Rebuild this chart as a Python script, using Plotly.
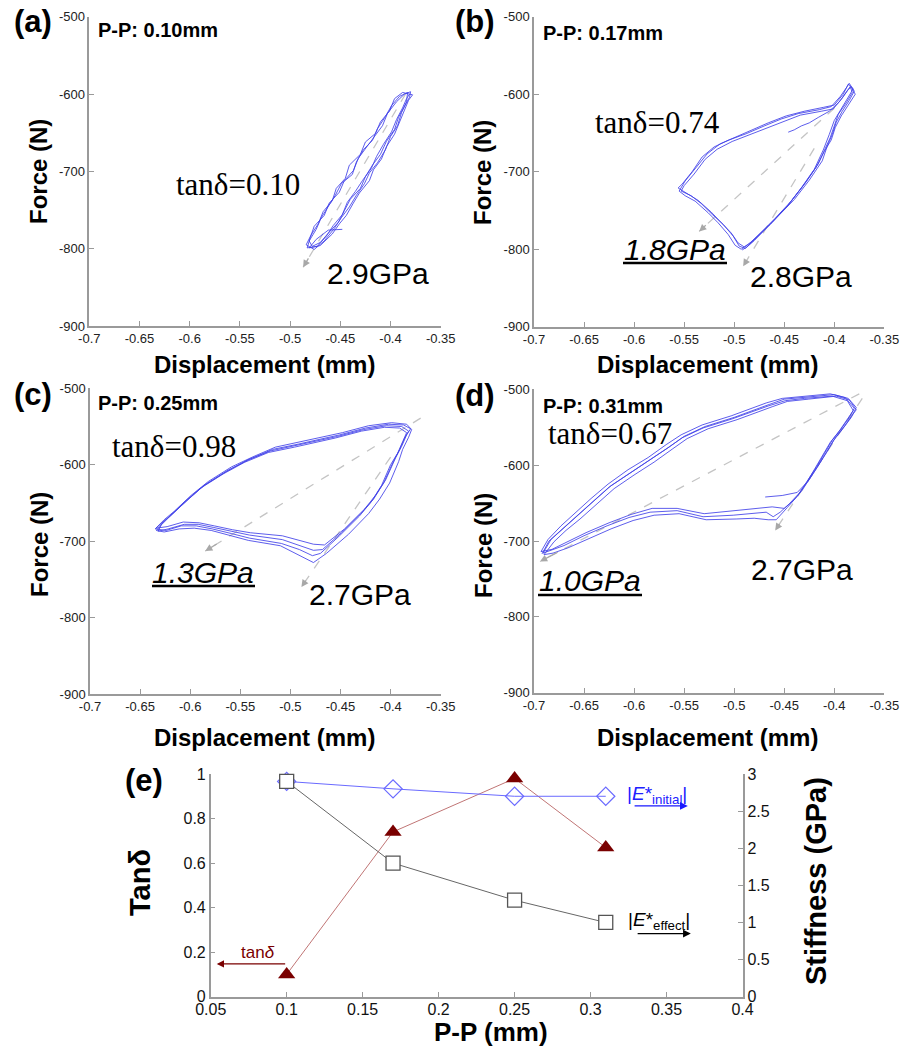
import plotly.graph_objects as go

W, H = 903, 1046

# ---------------- data ----------------
X_TICKS_DISP = [-0.7, -0.65, -0.6, -0.55, -0.5, -0.45, -0.4, -0.35]
X_TICKTEXT_DISP = ["-0.7", "-0.65", "-0.6", "-0.55", "-0.5", "-0.45", "-0.4", "-0.35"]
Y_TICKS_FORCE = [-900, -800, -700, -600, -500]
Y_TICKTEXT_FORCE = ["-900", "-800", "-700", "-600", "-500"]

# hysteresis loops (displacement mm, force N), several cycles each
LOOP_A = [(-0.448,-775),(-0.462,-776),(-0.474,-788),(-0.481,-799),
          (-0.470,-796),(-0.458,-781),(-0.451,-768),(-0.444,-757),(-0.437,-741),(-0.431,-728),(-0.421,-712),
          (-0.417,-698),(-0.409,-684),(-0.404,-668),(-0.396,-652),(-0.391,-636),(-0.386,-621),(-0.382,-608),
          (-0.378,-601),
          (-0.388,-598),(-0.396,-606),(-0.401,-622),(-0.410,-636),(-0.415,-651),(-0.425,-662),(-0.430,-678),
          (-0.441,-692),(-0.445,-709),(-0.454,-722),(-0.458,-738),(-0.467,-752),(-0.472,-768),(-0.479,-782),
          (-0.484,-795),
          (-0.476,-801),(-0.466,-790),(-0.456,-774),(-0.449,-760),(-0.441,-746),(-0.434,-731),(-0.426,-716),
          (-0.421,-702),(-0.413,-689),(-0.405,-672),(-0.400,-655),(-0.393,-641),(-0.389,-624),(-0.384,-610),
          (-0.383,-598),
          (-0.391,-603),(-0.399,-615),(-0.405,-629),(-0.413,-645),(-0.418,-660),(-0.427,-672),(-0.434,-688),
          (-0.438,-704),(-0.449,-716),(-0.455,-731),(-0.462,-745),(-0.469,-760),(-0.474,-775),(-0.481,-790),
          (-0.478,-797),
          (-0.470,-792),(-0.462,-780),(-0.452,-766),(-0.446,-751),(-0.440,-736),(-0.430,-722),(-0.425,-707),
          (-0.418,-692),(-0.410,-678),(-0.404,-661),(-0.396,-646),(-0.392,-630),(-0.386,-615),(-0.381,-604),
          (-0.380,-597),
          (-0.386,-600),(-0.394,-610),(-0.403,-625),(-0.408,-641),(-0.416,-655),(-0.423,-668),(-0.432,-683),
          (-0.437,-699),(-0.446,-712),(-0.451,-727),(-0.461,-741),(-0.466,-757),(-0.476,-771),(-0.480,-786),
          (-0.483,-799),
          (-0.473,-797),(-0.464,-784),(-0.457,-770),(-0.448,-756),(-0.443,-740),(-0.435,-726),(-0.428,-712),
          (-0.419,-696),(-0.414,-681),(-0.407,-665),(-0.399,-649),(-0.394,-633),(-0.388,-618),(-0.384,-606),
          (-0.381,-600)]

LOOP_B = [(-0.446,-649),(-0.440,-646),(-0.433,-641),(-0.425,-637),(-0.416,-630),(-0.405,-622),(-0.395,-610),
          (-0.388,-597),(-0.384,-590),
          (-0.382,-598),(-0.388,-611),(-0.396,-626),(-0.400,-640),(-0.404,-656),(-0.409,-670),(-0.416,-690),
          (-0.428,-713),(-0.443,-738),(-0.459,-760),(-0.472,-777),(-0.482,-790),(-0.490,-797),(-0.496,-792),
          (-0.503,-779),(-0.513,-765),(-0.523,-752),(-0.536,-737),(-0.546,-729),(-0.556,-721),(-0.552,-716),
          (-0.542,-700),(-0.532,-681),(-0.520,-668),(-0.505,-659),(-0.488,-651),(-0.470,-641),(-0.453,-632),
          (-0.436,-625),(-0.415,-620),(-0.403,-616),(-0.394,-603),(-0.387,-590),(-0.385,-586),
          (-0.380,-596),(-0.385,-608),(-0.392,-622),(-0.398,-636),(-0.402,-652),(-0.407,-667),(-0.412,-686),
          (-0.425,-711),(-0.440,-736),(-0.456,-757),(-0.469,-775),(-0.480,-789),(-0.489,-799),(-0.495,-796),
          (-0.501,-783),(-0.511,-768),(-0.522,-755),(-0.533,-741),(-0.543,-731),(-0.553,-725),(-0.550,-718),
          (-0.540,-703),(-0.529,-684),(-0.517,-671),(-0.502,-661),(-0.486,-653),(-0.468,-644),(-0.451,-635),
          (-0.434,-627),(-0.413,-622),(-0.401,-619),(-0.392,-605),(-0.386,-594),(-0.383,-591),
          (-0.379,-600),(-0.386,-614),(-0.393,-628),(-0.399,-643),(-0.403,-659),(-0.410,-674),(-0.418,-694),
          (-0.431,-718),(-0.446,-743),(-0.462,-765),(-0.476,-782),(-0.486,-794),(-0.493,-800),(-0.499,-795),
          (-0.506,-781),(-0.516,-766),(-0.526,-753),(-0.539,-738),(-0.549,-731),(-0.555,-725),(-0.549,-712),
          (-0.538,-695),(-0.527,-677),(-0.514,-664),(-0.498,-655),(-0.483,-647),(-0.466,-637),(-0.448,-628),
          (-0.430,-622),(-0.411,-617),(-0.400,-614),(-0.391,-600),(-0.386,-587),
          (-0.381,-593),(-0.387,-606),(-0.394,-620),(-0.400,-634),(-0.405,-652),(-0.411,-672),(-0.420,-697),
          (-0.433,-721),(-0.448,-746),(-0.464,-768),(-0.477,-784),(-0.487,-797),(-0.492,-801)]

LOOP_C = [(-0.633,-685),(-0.626,-674),(-0.618,-665),(-0.601,-644),(-0.585,-626),(-0.562,-607),(-0.541,-593),
          (-0.518,-580),(-0.492,-573),(-0.471,-567),(-0.451,-561),(-0.425,-552),(-0.402,-547),(-0.387,-548),
          (-0.380,-553),(-0.384,-561),(-0.389,-576),(-0.395,-591),(-0.405,-620),(-0.415,-640),(-0.426,-658),
          (-0.446,-684),(-0.466,-705),(-0.477,-704),(-0.490,-699),(-0.508,-693),(-0.540,-689),(-0.558,-685),
          (-0.576,-680),(-0.591,-676),(-0.607,-675),(-0.623,-681),(-0.634,-683),
          (-0.628,-676),(-0.620,-667),(-0.603,-646),(-0.587,-628),(-0.564,-609),(-0.543,-594),(-0.520,-582),
          (-0.494,-575),(-0.473,-569),(-0.453,-563),(-0.427,-554),(-0.404,-549),(-0.389,-550),(-0.382,-556),
          (-0.386,-565),(-0.391,-580),(-0.397,-595),(-0.407,-624),(-0.417,-645),(-0.429,-663),(-0.449,-689),
          (-0.468,-711),(-0.477,-712),(-0.490,-706),(-0.508,-698),(-0.541,-692),(-0.558,-687),(-0.577,-682),
          (-0.592,-678),(-0.606,-678),(-0.622,-684),(-0.632,-687),
          (-0.629,-679),(-0.622,-670),(-0.606,-649),(-0.590,-631),(-0.567,-612),(-0.546,-597),(-0.522,-584),
          (-0.496,-577),(-0.475,-571),(-0.455,-565),(-0.429,-556),(-0.406,-551),(-0.391,-552),(-0.384,-558),
          (-0.388,-570),(-0.393,-585),(-0.400,-600),(-0.409,-627),(-0.419,-648),(-0.431,-667),(-0.451,-693),
          (-0.470,-716),(-0.478,-719),(-0.491,-711),(-0.509,-703),(-0.541,-696),(-0.559,-690),(-0.578,-684),
          (-0.594,-680),(-0.609,-680),(-0.624,-686),(-0.635,-684),
          (-0.626,-672),(-0.616,-661),(-0.599,-640),(-0.582,-622),(-0.559,-603),(-0.538,-590),(-0.515,-577),
          (-0.489,-570),(-0.468,-564),(-0.448,-558),(-0.422,-549),(-0.399,-545),(-0.384,-547),(-0.379,-554),
          (-0.382,-564),(-0.388,-580),(-0.392,-596),(-0.401,-624),(-0.411,-645),(-0.422,-664),(-0.442,-691),
          (-0.464,-716),(-0.477,-728),(-0.492,-718),(-0.510,-706),(-0.542,-699),(-0.560,-693),(-0.579,-686),
          (-0.596,-683),(-0.611,-684),(-0.626,-688),(-0.634,-686)]

LOOP_D = [(-0.469,-642),(-0.452,-640),(-0.437,-636),(-0.426,-621),(-0.417,-603),(-0.409,-586),(-0.401,-568),
          (-0.392,-553),(-0.383,-537),(-0.378,-524),(-0.386,-512),(-0.400,-507),(-0.429,-510),(-0.450,-513),
          (-0.465,-520),(-0.483,-529),(-0.500,-537),(-0.529,-549),(-0.550,-562),(-0.565,-576),(-0.583,-592),
          (-0.603,-609),(-0.623,-627),(-0.640,-647),(-0.657,-667),(-0.670,-682),(-0.683,-698),(-0.691,-716),
          (-0.684,-713),(-0.670,-706),(-0.650,-693),(-0.627,-680),(-0.605,-669),(-0.584,-662),(-0.557,-660),
          (-0.531,-668),(-0.501,-666),(-0.485,-664),(-0.468,-662),(-0.461,-668),
          (-0.454,-662),(-0.445,-651),(-0.435,-637),(-0.427,-621),(-0.418,-603),(-0.410,-585),(-0.402,-567),
          (-0.393,-552),(-0.385,-537),(-0.380,-525),(-0.389,-511),(-0.404,-506),(-0.432,-509),(-0.452,-512),
          (-0.468,-518),(-0.486,-527),(-0.503,-535),(-0.532,-547),(-0.553,-560),(-0.568,-573),(-0.586,-590),
          (-0.606,-606),(-0.626,-625),(-0.643,-644),(-0.660,-664),(-0.673,-680),(-0.686,-698),(-0.693,-714),
          (-0.682,-711),(-0.668,-702),(-0.648,-689),(-0.625,-676),(-0.603,-665),(-0.582,-657),(-0.557,-657),
          (-0.530,-664),(-0.500,-660),(-0.484,-657),(-0.462,-655),(-0.450,-657),
          (-0.441,-647),(-0.432,-633),(-0.424,-617),(-0.415,-599),(-0.407,-582),(-0.399,-564),(-0.390,-549),
          (-0.382,-534),(-0.378,-527),(-0.385,-514),(-0.398,-509),(-0.426,-513),(-0.447,-516),(-0.462,-523),
          (-0.480,-532),(-0.497,-540),(-0.526,-552),(-0.547,-565),(-0.562,-579),(-0.580,-596),(-0.600,-613),
          (-0.620,-631),(-0.637,-651),(-0.654,-671),(-0.668,-686),(-0.680,-701),(-0.690,-718),(-0.681,-716),
          (-0.666,-709),(-0.646,-697),(-0.623,-684),(-0.601,-673),(-0.580,-666),(-0.555,-664),(-0.528,-672),
          (-0.498,-671),(-0.480,-670),(-0.466,-672),(-0.458,-672),
          (-0.447,-656),(-0.437,-641),(-0.428,-624),(-0.420,-606),(-0.412,-588),(-0.404,-570),(-0.395,-555),
          (-0.387,-540),(-0.381,-528),(-0.387,-515),(-0.402,-509),(-0.430,-512),(-0.449,-515),(-0.466,-522),
          (-0.484,-531),(-0.502,-539),(-0.531,-551),(-0.552,-564),(-0.567,-578),(-0.585,-594),(-0.605,-611),
          (-0.625,-629),(-0.642,-649),(-0.659,-669),(-0.672,-684),(-0.685,-700),(-0.692,-717)]

# secant (stiffness) guide lines: (x0, y0, x1, y1), arrow at (x1, y1)
SECANTS_A = [(-0.385, -600, -0.487, -824)]
SECANTS_B = [(-0.400, -618, -0.535, -777), (-0.420, -670, -0.491, -822)]
SECANTS_C = [(-0.370, -539, -0.585, -713), (-0.400, -590, -0.489, -760)]
SECANTS_D = [(-0.375, -506, -0.694, -727), (-0.372, -512, -0.459, -686)]

PANEL_NAMES = ["(a)", "(b)", "(c)", "(d)"]
PP_LABELS = ["P-P: 0.10mm", "P-P: 0.17mm", "P-P: 0.25mm", "P-P: 0.31mm"]
TAN_LABELS = ["tan\u03b4=0.10", "tan\u03b4=0.74", "tan\u03b4=0.98", "tan\u03b4=0.67"]
E_INIT_LABELS = ["2.9GPa", "2.8GPa", "2.7GPa", "2.7GPa"]
E_EFF_LABELS = [None, "1.8GPa", "1.3GPa", "1.0GPa"]

# panel (e)
PP = [0.10, 0.17, 0.25, 0.31]
TAN_DELTA = [0.10, 0.74, 0.98, 0.67]
E_INITIAL = [2.9, 2.8, 2.7, 2.7]
E_EFFECT = [2.9, 1.8, 1.3, 1.0]
E_X_TICKS = [0.05, 0.1, 0.15, 0.2, 0.25, 0.3, 0.35, 0.4]
E_X_TICKTEXT = ["0.05", "0.1", "0.15", "0.2", "0.25", "0.3", "0.35", "0.4"]
E_YL_TICKS = [0, 0.2, 0.4, 0.6, 0.8, 1]
E_YL_TICKTEXT = ["0", "0.2", "0.4", "0.6", "0.8", "1"]
E_YR_TICKS = [0, 0.5, 1, 1.5, 2, 2.5, 3]
E_YR_TICKTEXT = ["0", "0.5", "1", "1.5", "2", "2.5", "3"]

# ---------------- layout helpers ----------------
ARIAL = "Arial, 'Liberation Sans', sans-serif"
NARROW = "'Arial Narrow', 'Liberation Sans Narrow', Arial, 'Liberation Sans', sans-serif"
TIMES = "'Times New Roman', 'Liberation Serif', serif"
LOOP_COLOR = "#4040e8"
AXIS_GRAY = "#9a9a9a"


def px(x):
    return x / W


def py(y):
    return 1 - y / H


# panel pixel boxes: (left, right, top, bottom)
BOXES = [(89.3, 440.7, 16.7, 326.0), (534.0, 884.3, 16.7, 326.7),
         (90.0, 440.7, 388.3, 694.0), (534.0, 884.3, 389.3, 692.7)]
E_BOX = (210.7, 742.5, 774.0, 996.7)

fig = go.Figure()
loops = [LOOP_A, LOOP_B, LOOP_C, LOOP_D]
secants = [SECANTS_A, SECANTS_B, SECANTS_C, SECANTS_D]
annotations = []
shapes = []

for i in range(4):
    xa = "x" if i == 0 else f"x{i+1}"
    ya = "y" if i == 0 else f"y{i+1}"
    for (x0, y0, x1, y1) in secants[i]:
        fig.add_trace(go.Scatter(x=[x0, x1], y=[y0, y1], mode="lines", xaxis=xa, yaxis=ya,
                                 line=dict(color="#c4c4c4", width=1.3, dash="dash"),
                                 hoverinfo="skip", showlegend=False, cliponaxis=False))
        annotations.append(dict(x=x1, y=y1, ax=x1 + (x0 - x1) * 0.06, ay=y1 + (y0 - y1) * 0.06,
                                xref=xa, yref=ya, axref=xa, ayref=ya, text="", showarrow=True,
                                arrowhead=2, arrowsize=1.1, arrowwidth=1.3, arrowcolor="#a8a8a8"))
    fig.add_trace(go.Scatter(x=[p[0] for p in loops[i]], y=[p[1] for p in loops[i]], mode="lines",
                             xaxis=xa, yaxis=ya, line=dict(color=LOOP_COLOR, width=0.85),
                             showlegend=False, hoverinfo="skip"))

# panel (e) traces
fig.add_trace(go.Scatter(x=PP, y=E_INITIAL, mode="lines+markers", xaxis="x5", yaxis="y6",
                         line=dict(color="#6a6aff", width=1),
                         marker=dict(symbol="diamond-open", size=14, color="#6a6aff", line=dict(width=1.2)),
                         showlegend=False, cliponaxis=False))
fig.add_trace(go.Scatter(x=PP, y=E_EFFECT, mode="lines+markers", xaxis="x5", yaxis="y6",
                         line=dict(color="#666666", width=1),
                         marker=dict(symbol="square", size=14, color="white", line=dict(color="#555555", width=1.3)),
                         showlegend=False, cliponaxis=False))
fig.add_trace(go.Scatter(x=PP, y=TAN_DELTA, mode="lines+markers", xaxis="x5", yaxis="y5",
                         line=dict(color="#c07575", width=1),
                         marker=dict(symbol="triangle-up", size=15, color="#7a0000"),
                         showlegend=False, cliponaxis=False))

axis_common = dict(showgrid=False, zeroline=False, showline=True, linecolor=AXIS_GRAY, linewidth=1.5,
                   ticks="inside", ticklen=5, tickcolor=AXIS_GRAY, tickwidth=1, mirror=False,
                   automargin=False)

layout_axes = {}
for i, (l, r, t, b) in enumerate(BOXES):
    xk = "xaxis" if i == 0 else f"xaxis{i+1}"
    yk = "yaxis" if i == 0 else f"yaxis{i+1}"
    ya = "y" if i == 0 else f"y{i+1}"
    xa = "x" if i == 0 else f"x{i+1}"
    layout_axes[xk] = dict(axis_common, domain=[px(l), px(r)], anchor=ya, range=[-0.7, -0.35],
                           tickvals=X_TICKS_DISP, ticktext=X_TICKTEXT_DISP,
                           tickfont=dict(family=ARIAL, size=13, color="#222"))
    layout_axes[yk] = dict(axis_common, domain=[py(b), py(t)], anchor=xa, range=[-900, -500],
                           tickvals=Y_TICKS_FORCE, ticktext=Y_TICKTEXT_FORCE,
                           tickfont=dict(family=ARIAL, size=13, color="#222"))

l, r, t, b = E_BOX
layout_axes["xaxis5"] = dict(axis_common, domain=[px(l), px(r)], anchor="y5", range=[0.05, 0.4],
                             tickvals=E_X_TICKS, ticktext=E_X_TICKTEXT, ticklabelstandoff=-3,
                             tickfont=dict(family=NARROW, size=16, color="#111"))
layout_axes["yaxis5"] = dict(axis_common, domain=[py(b), py(t)], anchor="x5", range=[0, 1],
                             tickvals=E_YL_TICKS, ticktext=E_YL_TICKTEXT,
                             tickfont=dict(family=NARROW, size=16, color="#111"))
layout_axes["yaxis6"] = dict(axis_common, overlaying="y5", anchor="x5", side="right", range=[0, 3],
                             tickvals=E_YR_TICKS, ticktext=E_YR_TICKTEXT,
                             tickfont=dict(family=NARROW, size=16, color="#111"))


def text(xp, ypix, s, size, family=ARIAL, color="black", angle=0, xanchor="center", bold=False):
    if bold:
        s = f"<b>{s}</b>"
    annotations.append(dict(x=px(xp), y=py(ypix), xref="paper", yref="paper", text=s, showarrow=False,
                            xanchor=xanchor, yanchor="middle", textangle=angle,
                            font=dict(family=family, size=size, color=color)))


# panel letters, P-P labels, axis titles
letter_pos = [(33, 21), (475, 21), (33, 394), (475, 396)]
pp_pos = [(96, 30), (541, 33), (96, 403), (541, 406)]
force_pos = [(39, 172), (483, 172), (39, 545), (483, 545)]
disp_pos = [(264, 364), (707, 364), (264, 737), (707, 737)]
tan_pos = [(238, 185), (657, 123), (174, 446), (610, 433)]
einit_pos = [(378, 273), (801, 276), (360, 594), (802, 569)]
eeff_pos = [None, (675, 249), (203, 572), (590, 580)]
underline = [None, (623, 727, 263), (152, 255, 586), (538, 642, 595)]

for i in range(4):
    text(*letter_pos[i], PANEL_NAMES[i], 31, bold=True)
    text(*pp_pos[i], PP_LABELS[i], 20, bold=True, xanchor="left")
    text(*force_pos[i], "Force (N)", 24, bold=True, angle=-90)
    text(*disp_pos[i], "Displacement (mm)", 24, bold=True)
    text(*tan_pos[i], TAN_LABELS[i], 31, family=TIMES)
    text(*einit_pos[i], E_INIT_LABELS[i], 30)
    if E_EFF_LABELS[i]:
        text(*eeff_pos[i], f"<i>{E_EFF_LABELS[i]}</i>", 30)
        x0, x1, yy = underline[i]
        shapes.append(dict(type="line", xref="paper", yref="paper", x0=px(x0), x1=px(x1),
                           y0=py(yy), y1=py(yy), line=dict(color="black", width=2.5)))

# panel (e) texts
text(144, 780, "(e)", 31, bold=True)
text(140, 883, "Tan\u03b4", 29, bold=True, angle=-90)
text(816, 881, "Stiffness (GPa)", 29, bold=True, angle=-90)
text(491, 1032, "P-P (mm)", 26, bold=True)
text(258, 952, "tan<i>\u03b4</i>", 17, color="#7a0000")
text(657, 795, "|<i>E</i>*<sub>initial</sub>|", 19, color="#2020ff")
text(659, 921, "|<i>E</i>*<sub>effect</sub>|", 19, color="black")

# panel (e) pointer arrows
annotations.append(dict(x=0.054, y=0.147, ax=0.10, ay=0.147, xref="x5", yref="y5", axref="x5", ayref="y5",
                        text="", showarrow=True, arrowhead=2, arrowsize=1.2, arrowwidth=1.2,
                        arrowcolor="#7a0000"))
annotations.append(dict(x=0.364, y=2.57, ax=0.328, ay=2.57, xref="x5", yref="y6", axref="x5", ayref="y6",
                        text="", showarrow=True, arrowhead=2, arrowsize=1.3, arrowwidth=1.2,
                        arrowcolor="#1a1aff"))
annotations.append(dict(x=0.366, y=0.85, ax=0.330, ay=0.85, xref="x5", yref="y6", axref="x5", ayref="y6",
                        text="", showarrow=True, arrowhead=2, arrowsize=1.3, arrowwidth=1.2,
                        arrowcolor="black"))

fig.update_layout(width=W, height=H, margin=dict(l=0, r=0, t=0, b=0, autoexpand=False),
                  paper_bgcolor="white", plot_bgcolor="white", showlegend=False,
                  annotations=annotations, shapes=shapes, **layout_axes)

fig.write_html("out.html")
